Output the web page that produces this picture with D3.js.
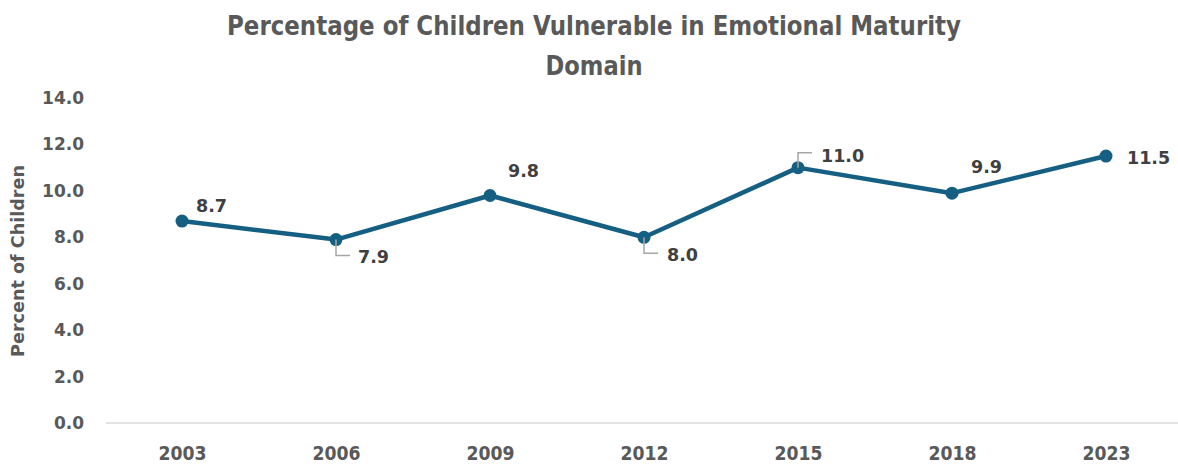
<!DOCTYPE html>
<html><head><meta charset="utf-8">
<script src="https://cdn.jsdelivr.net/npm/d3@7"></script>
<style>body{margin:0;background:#fff}svg{display:block}</style>
</head><body>
<svg id="c" width="1178" height="464"></svg>
<script>
const years = ["2003","2006","2009","2012","2015","2018","2023"];
const values = [8.7, 7.9, 9.8, 8.0, 11.0, 9.9, 11.5];
const yTicks = [0,2,4,6,8,10,12,14];
const titleLines = ["Percentage of Children Vulnerable in Emotional Maturity","Domain"];
const yTitle = "Percent of Children";
// label placement: [dx, dy, leader]
const labelPos = [
  {dx:14, dy:-15, anchor:"start", leader:null},
  {dx:22, dy:17, anchor:"start", leader:"down"},
  {dx:18, dy:-25, anchor:"start", leader:null},
  {dx:23, dy:18, anchor:"start", leader:"down"},
  {dx:23, dy:-12, anchor:"start", leader:"up"},
  {dx:19, dy:-26, anchor:"start", leader:null},
  {dx:21, dy:2, anchor:"start", leader:null}
];

const svg = d3.select("#c");
const condensed = "'DejaVu Sans Condensed','DejaVu Sans',sans-serif";
const labelFont = "'DejaVu Sans',sans-serif";

const x = d3.scalePoint().domain(years).range([105,1183]).padding(0.5);
const y = d3.scaleLinear().domain([0,14]).range([423,98]);

function fit(sel, target){
  const w = sel.node().getComputedTextLength();
  const fs = parseFloat(sel.attr("font-size"));
  sel.attr("font-size", fs*target/w);
}

// title
svg.append("text").attr("x",594).attr("y",35).attr("text-anchor","middle")
  .attr("font-family",condensed).attr("font-stretch","condensed").attr("font-weight","bold").attr("font-size",26)
  .attr("textLength",734).attr("lengthAdjust","spacingAndGlyphs")
  .attr("fill","#595959").text(titleLines[0]);
svg.append("text").attr("x",594).attr("y",75).attr("text-anchor","middle")
  .attr("font-family",condensed).attr("font-stretch","condensed").attr("font-weight","bold").attr("font-size",26)
  .attr("textLength",97).attr("lengthAdjust","spacingAndGlyphs")
  .attr("fill","#595959").text(titleLines[1]);

// y axis
const yAxis = d3.axisLeft(y).tickValues(yTicks).tickFormat(d3.format(".1f")).tickSize(0).tickPadding(0);
const gy = svg.append("g").attr("transform","translate(84,0)").call(yAxis);
gy.select(".domain").remove();
gy.selectAll("text").attr("font-family",labelFont).attr("font-weight","bold")
  .attr("font-size",17).attr("fill","#595959");

// y title
const yt = svg.append("text").attr("transform","translate(24,261) rotate(-90)")
  .attr("text-anchor","middle").attr("font-family",labelFont).attr("font-weight","bold")
  .attr("font-size",15).attr("fill","#595959").text(yTitle);
fit(yt, 192);

// x axis
const xAxis = d3.axisBottom(x).tickSize(0).tickPadding(0);
const gx = svg.append("g").attr("transform","translate(0,423)").call(xAxis);
gx.select(".domain").attr("stroke","#d9d9d9").attr("stroke-width",1.5)
  .attr("d","M106,0H1178");
gx.selectAll("text").attr("font-family",condensed).attr("font-stretch","condensed").attr("font-weight","bold")
  .attr("font-size",19).attr("fill","#595959").attr("dy",null).attr("y",37)
  .attr("textLength",48).attr("lengthAdjust","spacingAndGlyphs");

// line
const line = d3.line().x((d,i)=>x(years[i])).y(d=>y(d));
svg.append("path").datum(values).attr("d",line).attr("fill","none")
  .attr("stroke","#156082").attr("stroke-width",4.5).attr("stroke-linejoin","round");
svg.selectAll("circle.pt").data(values).join("circle").attr("class","pt")
  .attr("cx",(d,i)=>x(years[i])).attr("cy",d=>y(d)).attr("r",6.5).attr("fill","#156082");

// leaders
values.forEach((v,i)=>{
  const p = labelPos[i];
  if(!p.leader) return;
  const px = x(years[i]), py = y(v);
  const ly = p.leader==="down" ? py+16 : py-15;
  svg.append("path").attr("d",`M${px},${py}V${ly}H${px+14}`)
    .attr("fill","none").attr("stroke","#a6a6a6").attr("stroke-width",1.5);
});

// data labels
svg.selectAll("text.dl").data(values).join("text").attr("class","dl")
  .attr("x",(d,i)=>x(years[i])+labelPos[i].dx)
  .attr("y",(d,i)=>y(d)+labelPos[i].dy)
  .attr("dy","0.35em")
  .attr("text-anchor",(d,i)=>labelPos[i].anchor)
  .attr("font-family",labelFont).attr("font-weight","bold").attr("font-size",17.5)
  .attr("fill","#404040").text(d=>d3.format(".1f")(d));
</script>
</body></html>
